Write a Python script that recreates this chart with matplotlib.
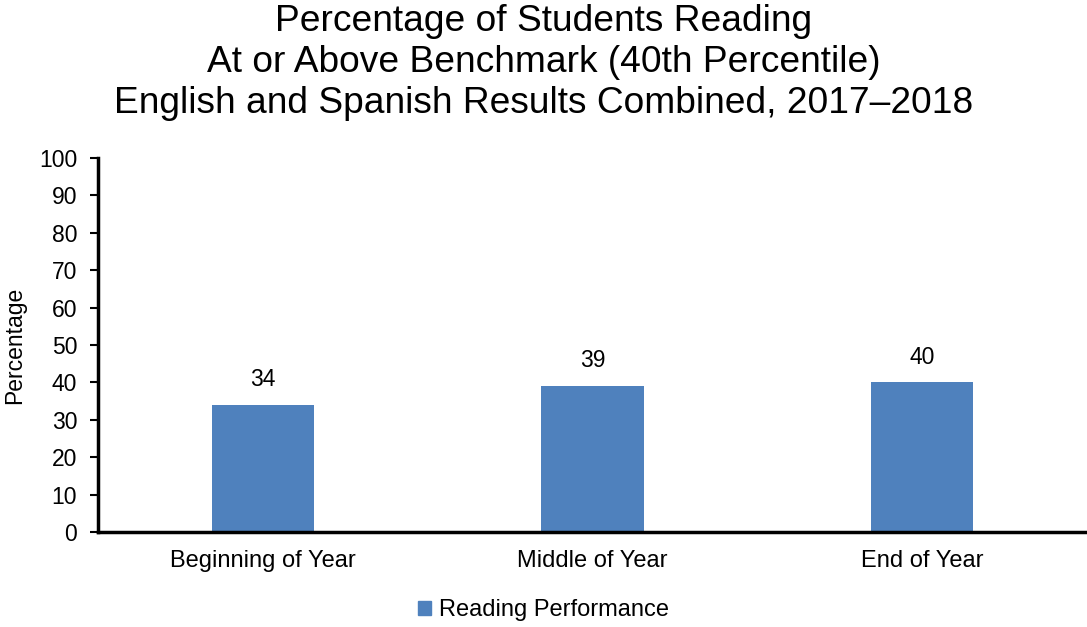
import matplotlib
matplotlib.use('Agg')
from matplotlib import pyplot as plt
from matplotlib.patches import Patch

plt.rcParams['font.family'] = ['Liberation Sans', 'DejaVu Sans']

categories = ['Beginning of Year', 'Middle of Year', 'End of Year']
values = [34, 39, 40]
series_name = 'Reading Performance'
bar_color = '#4F81BD'

fig = plt.figure(figsize=(10.87, 6.27), dpi=100)
ax = fig.add_axes([0.0902, 0.1515, 0.9098, 0.5965])

x = list(range(len(categories)))
bars = ax.bar(x, values, width=0.31, color=bar_color, zorder=2)
for b, v in zip(bars, values):
    ax.annotate('%d' % v, (b.get_x() + b.get_width() / 2, v),
                xytext=(0, 10), textcoords='offset points',
                ha='center', va='bottom', fontsize=16.5)

ax.set_xlim(-0.5, len(categories) - 0.5)
ax.set_ylim(0, 100)
ax.set_yticks(range(0, 101, 10))
ax.set_xticks(x)
ax.set_xticklabels(categories)
ax.tick_params(axis='x', length=0, labelsize=17, pad=13)
ax.tick_params(axis='y', length=6, width=1.5, labelsize=16.5, pad=9)
for s in ['top', 'right']:
    ax.spines[s].set_visible(False)
for s in ['left', 'bottom']:
    ax.spines[s].set_linewidth(2.5)
ax.set_ylabel('Percentage', fontsize=16.5, labelpad=9)

fig.suptitle('Percentage of Students Reading\nAt or Above Benchmark (40th Percentile)\n'
             'English and Spanish Results Combined, 2017\u20132018',
             fontsize=26.7, y=0.993, linespacing=1.22)

fig.legend(handles=[Patch(color=bar_color, label=series_name)],
           loc='center', bbox_to_anchor=(0.5, 0.027), frameon=False,
           fontsize=17, handlelength=0.55, handleheight=0.55, handletextpad=0.3)

fig.savefig('out.png', dpi=100)
